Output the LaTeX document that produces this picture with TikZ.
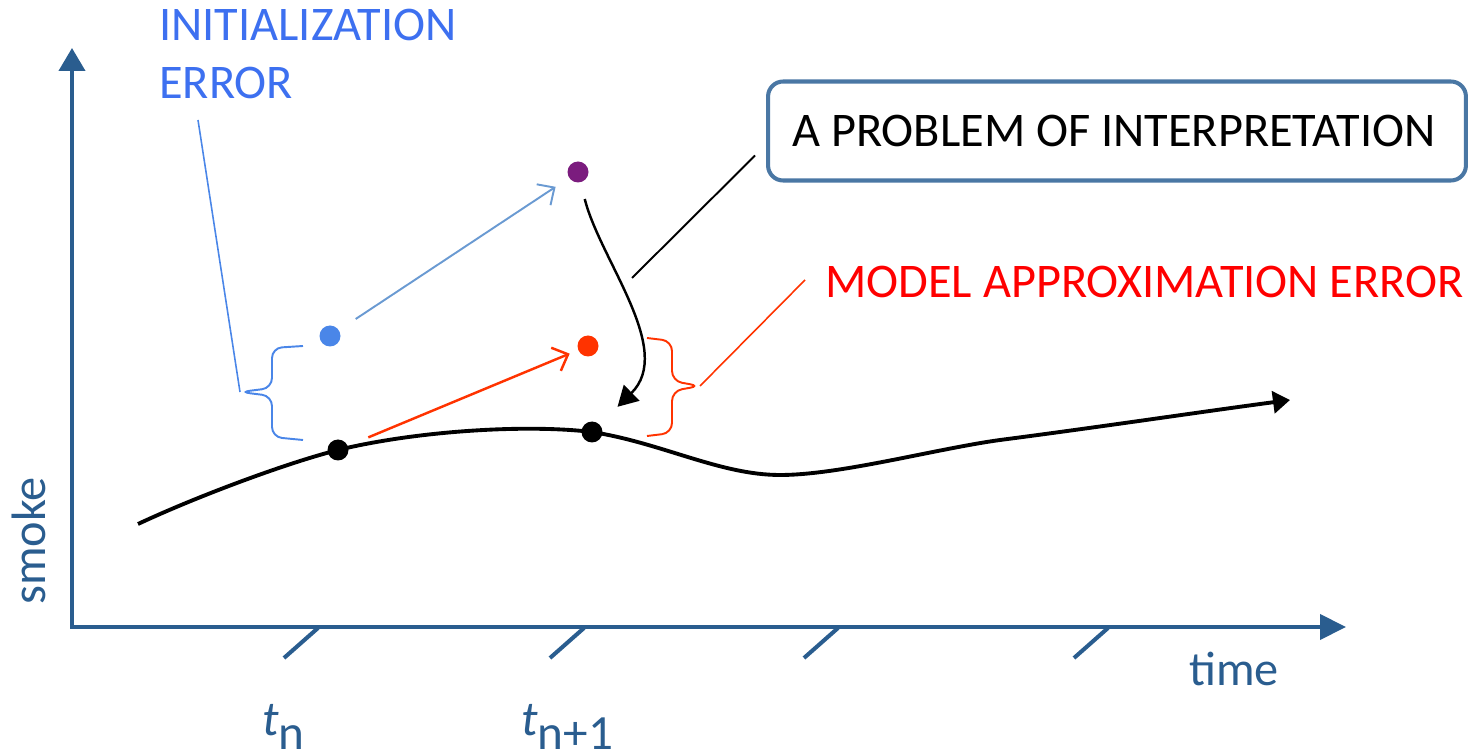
\documentclass[tikz,border=0pt]{standalone}
\usepackage{fontspec}
\setmainfont{Carlito}
\usepackage{xcolor}
\usepackage{tikz}
\usetikzlibrary{arrows.meta, positioning, calc}
\definecolor{axisblue}{HTML}{2A5D8F}
\definecolor{boxblue}{HTML}{4A77A4}
\definecolor{initblue}{HTML}{3D70F0}
\definecolor{braceblue}{HTML}{4A86E8}
\definecolor{dotblue}{HTML}{4A86E8}
\definecolor{arrowblue}{HTML}{6A9AD2}
\definecolor{modelred}{HTML}{FF0000}
\definecolor{dotred}{HTML}{FF3300}
\definecolor{dotpurple}{HTML}{7B1C7E}
\tikzstyle{axisline} = [draw=axisblue, line width=2.3pt, line join=miter,
  {Triangle[length=4.6mm,width=5.2mm]}-{Triangle[length=5.2mm,width=5mm]}]
\tikzstyle{tickline} = [draw=axisblue, line width=2.3pt]
\tikzstyle{bigtext} = [inner sep=0pt, font=\fontsize{27.5}{33}\selectfont]
\tikzstyle{ticklabel} = [inner sep=0pt, text=axisblue, font=\fontsize{28}{32}\selectfont]
\tikzstyle{dot} = [circle, inner sep=0pt, minimum size=0.42cm, draw=none]
\tikzstyle{smokecurve} = [line width=2.2pt, -{Triangle[length=3.4mm,width=4.4mm]}]
\tikzstyle{initarrow} = [draw=arrowblue, line width=1.1pt, -{Straight Barb[length=2.6mm,width=5mm]}]
\tikzstyle{modelarrow} = [draw=dotred, line width=1.4pt, -{Straight Barb[length=2.6mm,width=5mm]}]
\tikzstyle{interarrow} = [line width=1.4pt, -{Triangle[length=4mm,width=4.4mm]}]
\tikzstyle{notebox} = [rectangle, rounded corners=0.3cm, draw=boxblue, line width=2.3pt,
  minimum width=13.96cm, minimum height=1.98cm, bigtext, inner sep=4pt]
\tikzstyle{bracket} = [line width=1.1pt, rounded corners=0.2cm]

\begin{document}
\begin{tikzpicture}[x=0.02cm, y=-0.02cm]
  \useasboundingbox (0,0) rectangle (1468,756);

  % axes and ticks
  \coordinate (ytop) at (72,48);
  \coordinate (origin) at (72,627);
  \coordinate (xend) at (1346,627);
  \draw[axisline] (ytop) -- (origin) -- (xend);
  \foreach \tx in {318,584,838,1108}
    \draw[tickline] (\tx,628) -- ++(-34,30);

  \node (tn)   [ticklabel, anchor=base west] at (262,736) {\textit{t}\raisebox{-0.27em}{n}};
  \node (tn1)  [ticklabel, anchor=base west] at (521,736) {\textit{t}\raisebox{-0.27em}{n+1}};
  \node (time) [bigtext, text=axisblue, anchor=base west] at (1189,685) {time};
  \node (smoke)[bigtext, text=axisblue, rotate=90, anchor=base west] at (45,605) {smoke};

  % the smoke curve
  \coordinate (c0) at (138,524);
  \coordinate (c3) at (780,475);
  \coordinate (c4) at (1000,440);
  \coordinate (c5) at (1290,400);
  \node (k1) [dot, fill=black] at (338,450) {};
  \node (k2) [dot, fill=black] at (592,432) {};
  \draw[smokecurve] (c0) .. controls (200,495) and (290,462) .. (k1.center)
    .. controls (416,431) and (525,424) .. (k2.center)
    .. controls (662,443) and (720,475) .. (c3)
    .. controls (840,475) and (935,449) .. (c4)
    .. controls (1100,427) and (1200,412) .. (c5);

  % forecast points
  \node (bdot) [dot, fill=dotblue]   at (330,336) {};
  \node (pdot) [dot, fill=dotpurple] at (578,172) {};
  \node (rdot) [dot, fill=dotred]    at (588,346) {};

  \draw[initarrow, shorten <=0.4cm, shorten >=0.32cm] (bdot) -- (pdot);
  \draw[modelarrow, shorten <=0.44cm, shorten >=0.18cm] (k1) -- (rdot);
  \draw[interarrow, shorten <=0.34cm, shorten >=0.5cm]
    (pdot) .. controls (600,260) and (675,350) .. (k2);

  % labels
  \node (initlabel) [bigtext, text=initblue, align=left, anchor=north west] at (159,9)
    {INITIALIZATION\\ERROR};
  \node (modellabel) [bigtext, text=modelred, anchor=base west] at (825,298)
    {MODEL APPROXIMATION ERROR};
  \node (probbox) [notebox] at (1117,131) {A PROBLEM OF INTERPRETATION\hspace*{0.12cm}};

  % braces and leaders
  \draw[bracket, draw=braceblue] (303,346) -- (272,348) -- (272,388) -- (240,392)
    -- (272,396) -- (272,437) -- (303,440);
  \coordinate (btip) at (240,392);
  \coordinate (initfoot) at (198,120);
  \draw[braceblue, line width=0.9pt] (btip) -- (initfoot);

  \draw[bracket, draw=dotred] (647,338) -- (672,341) -- (672,381) -- (700,386)
    -- (672,391) -- (672,433) -- (647,436);
  \coordinate (rtip) at (700,386);
  \coordinate (modelfoot) at (805,280);
  \draw[dotred, line width=0.9pt] (rtip) -- (modelfoot);

  \coordinate (calloutfoot) at (632,278);
  \draw[line width=1.1pt] (calloutfoot) -- ($(probbox.south west)+(-11,-27)$);
\end{tikzpicture}
\end{document}
